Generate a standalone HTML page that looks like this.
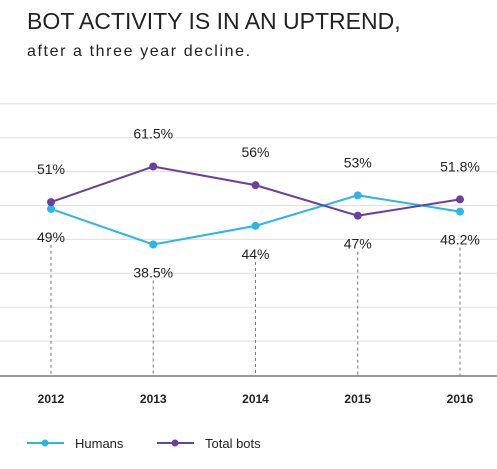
<!DOCTYPE html>
<html><head><meta charset="utf-8"><style>
body{margin:0;background:#fff;font-family:"Liberation Sans",sans-serif;}
#wrap{position:relative;width:497px;height:469px;overflow:hidden;}
.t{position:absolute;left:27px;top:8px;font-size:23px;color:#222;letter-spacing:0px;white-space:nowrap;}
.s{position:absolute;left:27px;top:43px;font-size:16px;color:#222;letter-spacing:1.6px;white-space:nowrap;}
</style></head><body>
<div id="wrap">
<div class="t">BOT ACTIVITY IS IN AN UPTREND,</div>
<div class="s">after a three year decline.</div>
<svg id="svg" width="497" height="469" style="position:absolute;left:0;top:0"></svg>
</div>
<script>
const years=["2012","2013","2014","2015","2016"];
const humans=[49,38.5,44,53,48.2];
const bots=[51,61.5,56,47,51.8];
const humanLabels=["49%","38.5%","44%","53%","48.2%"];
const botLabels=["51%","61.5%","56%","47%","51.8%"];
const gridTicks=[10,20,30,40,50,60,70,80];
const NS="http://www.w3.org/2000/svg";
const svg=document.getElementById('svg');
const xs=[51,154,256,358,460];
function x(i){return xs[0]+(xs[4]-xs[0])*i/(years.length-1);}
function y(v){return 375-v*3.39;}
function mk(t,a,p){const e=document.createElementNS(NS,t);for(const k in a)e.setAttribute(k,a[k]);(p||svg).appendChild(e);return e;}
gridTicks.forEach(v=>{const l=mk('line',{x1:0,x2:497,y1:y(v),y2:y(v),stroke:'#e2e2e2','stroke-width':1.2});

});
const base=mk('line',{x1:0,x2:497,y1:376,y2:376,stroke:'#777','stroke-width':1.5});


years.forEach((yr,i)=>{
 const lo=Math.min(humans[i],bots[i]);
 const d=mk('line',{x1:x(i),x2:x(i),y1:y(lo)+36,y2:376,stroke:'#777','stroke-width':1,'stroke-dasharray':'3,3'});
 
 
 const t=mk('text',{x:x(i),y:403,'text-anchor':'middle','font-size':12,'font-weight':'bold',fill:'#222'});
 t.textContent=yr;
 
 
});
function series(vals,labels,color,name,other){
 const pts=vals.map((v,i)=>x(i)+','+y(v)).join(' ');
 const pl=mk('polyline',{points:pts,fill:'none',stroke:color,'stroke-width':2});
 
 
 vals.forEach((v,i)=>{
  const c=mk('circle',{cx:x(i),cy:y(v),r:4,fill:color});
  
  
  const up=v>=other[i];
  const t=mk('text',{x:x(i),y:up?y(v)-28:y(v)+33,'text-anchor':'middle','font-size':14,fill:'#222'});
  t.textContent=labels[i];
  
  
 });
}
series(humans,humanLabels,'#2bb5e8','humans',bots);
series(bots,botLabels,'#6b3fa0','bots',humans);
function legend(x0,color,label,name){
 const g=mk('g',{});
 
 
 mk('line',{x1:x0,x2:x0+37,y1:443,y2:443,stroke:color,'stroke-width':2},g);
 mk('circle',{cx:x0+18,cy:443,r:3.5,fill:color},g);
 const t=mk('text',{x:x0+48,y:448,'font-size':13,fill:'#222'},g);
 t.textContent=label;
}
legend(27,'#2bb5e8','Humans','humans');
legend(157,'#6b3fa0','Total bots','bots');
</script>
</body></html>
